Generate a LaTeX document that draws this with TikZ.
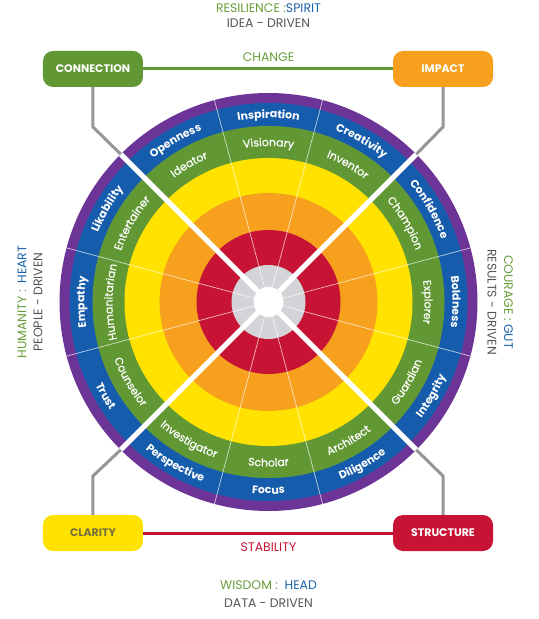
\documentclass[tikz,border=0pt]{standalone}
\usepackage{fontspec}
\setmainfont{Poppins}
\newfontfamily\rolefamily[FakeBold=0.5]{Poppins}
\usetikzlibrary{decorations.text}

\definecolor{ringpurple}{RGB}{108,52,150}
\definecolor{ringblue}{RGB}{22,92,172}
\definecolor{ringgreen}{RGB}{98,152,52}
\definecolor{ringyellow}{RGB}{255,226,0}
\definecolor{ringorange}{RGB}{246,160,30}
\definecolor{ringred}{RGB}{200,20,52}
\definecolor{ringgray}{RGB}{212,212,216}
\definecolor{textgreen}{RGB}{104,158,58}
\definecolor{textblue}{RGB}{28,98,170}
\definecolor{textgray}{RGB}{85,85,85}
\definecolor{textolive}{RGB}{120,112,60}
\definecolor{linkgray}{RGB}{150,150,150}

\newcommand{\bandfont}{\bfseries\fontsize{11}{13}\selectfont\color{white}}
\newcommand{\rolefont}{\rolefamily\fontsize{11}{13}\selectfont\color{white}}

\begin{document}
\begin{tikzpicture}[x=1bp, y=1bp,
    corebox/.style={rounded corners=10bp,
        minimum width=100bp,
        minimum height=36bp,
        font=\bfseries\fontsize{11}{13}\selectfont,
        text=white},
    caption/.style={font=\fontsize{12.5}{14}\selectfont},
    linkline/.style={linkgray, line width=3bp}]

\useasboundingbox (-268.5,-317) rectangle (270.5,302);

% Rings from outside in
\fill[ringpurple] (0,0) circle[radius=209];
\fill[ringblue] (0,0) circle[radius=199];
\fill[ringgreen] (0,0) circle[radius=176];
\fill[ringyellow] (0,0) circle[radius=144];
\fill[ringorange] (0,0) circle[radius=109];
\fill[ringred] (0,0) circle[radius=72];
\fill[ringgray] (0,0) circle[radius=37];

% Thin spokes between the segments
\foreach \a in {15,75,105,165,195,255,285,345}
    \draw[white, opacity=0.7, line width=0.7bp] (\a:15) -- (\a:209);

% Thick spokes between the quarters
\foreach \a in {45,135,225,315}
    \draw[white, line width=5bp] (\a:15) -- (\a:209);

\fill[white] (0,0) circle[radius=15];

% Outer band labels, upper half (tops outward)
\foreach \a/\word in {90/Inspiration, 60/Creativity, 30/Confidence,
        0/Boldness, 180/Empathy, 150/Likability, 120/Openness}
    \path[decorate, decoration={text along path, text align=center,
        text/.expanded={|\noexpand\bandfont|\word}}]
        (\a+25:184) arc[start angle=\a+25, end angle=\a-25, radius=184];

% Outer band labels, lower half (tops inward)
\foreach \a/\word in {-30/Integrity, -60/Diligence, -90/Focus,
        -120/Perspective, -150/Trust}
    \path[decorate, decoration={text along path, text align=center,
        text/.expanded={|\noexpand\bandfont|\word}}]
        (\a-25:192) arc[start angle=\a-25, end angle=\a+25, radius=192];

% Green band labels, upper half
\foreach \a/\word in {90/Visionary, 60/Inventor, 30/Champion,
        0/Explorer, 180/Humanitarian, 150/Entertainer, 120/Ideator}
    \path[decorate, decoration={text along path, text align=center,
        text/.expanded={|\noexpand\rolefont|\word}}]
        (\a+28:156) arc[start angle=\a+28, end angle=\a-28, radius=156];

% Green band labels, lower half
\foreach \a/\word in {-30/Guardian, -60/Architect, -90/Scholar,
        -120/Investigator, -150/Counselor}
    \path[decorate, decoration={text along path, text align=center,
        text/.expanded={|\noexpand\rolefont|\word}}]
        (\a-28:164.5) arc[start angle=\a-28, end angle=\a+28, radius=164.5];

% Corner boxes
\node[corebox,
    fill=ringgreen] (connection) at (-175.5,233) {CONNECTION};
\node[corebox,
    fill=ringorange] (impact) at (174.5,233) {IMPACT};
\node[corebox,
    fill=ringyellow,
    text=textolive] (clarity) at (-175.5,-231) {CLARITY};
\node[corebox,
    fill=ringred] (structure) at (174.5,-231) {STRUCTURE};

% Horizontal links
\draw[ringgreen, line width=3bp] (connection) -- (impact);
\draw[ringred, line width=3bp] (clarity) -- (structure);
\node[caption, text=textgreen] (change) at (0,245) {CHANGE};
\node[caption, text=ringred] (stability) at (0,-245) {STABILITY};

% Grey links from the wheel to the boxes
\coordinate (edgeNW) at (135:209);
\coordinate (edgeNE) at (45:209);
\coordinate (edgeSW) at (225:209);
\coordinate (edgeSE) at (315:209);
\coordinate (bendNW) at (-175.5,175);
\coordinate (bendNE) at (174.5,175);
\coordinate (bendSW) at (-175.5,-174);
\coordinate (bendSE) at (174.5,-174);
\draw[linkline] (edgeNW) -- (bendNW) -- (connection);
\draw[linkline] (edgeNE) -- (bendNE) -- (impact);
\draw[linkline] (edgeSW) -- (bendSW) -- (clarity);
\draw[linkline] (edgeSE) -- (bendSE) -- (structure);

% Captions round the wheel
\node[caption] (resilience) at (0,294)
    {\color{textgreen}RESILIENCE :\color{textblue}SPIRIT};
\node[caption, text=textgray] (idea) at (0,279) {IDEA - DRIVEN};
\node[caption] (wisdom) at (0,-283)
    {\color{textgreen}WISDOM : \ \color{textblue}HEAD};
\node[caption, text=textgray] (data) at (0,-301) {DATA - DRIVEN};
\node[caption, rotate=90] (humanity) at (-246.5,0)
    {\color{textgreen}HUMANITY : \ \color{textblue}HEART};
\node[caption, rotate=90, text=textgray] (people) at (-230.5,0) {PEOPLE - DRIVEN};
\node[caption, rotate=-90] (courage) at (240,0)
    {\color{textgreen}COURAGE : \color{textblue}GUT};
\node[caption, rotate=-90, text=textgray] (results) at (223.5,0) {RESULTS - DRIVEN};

\end{tikzpicture}
\end{document}
